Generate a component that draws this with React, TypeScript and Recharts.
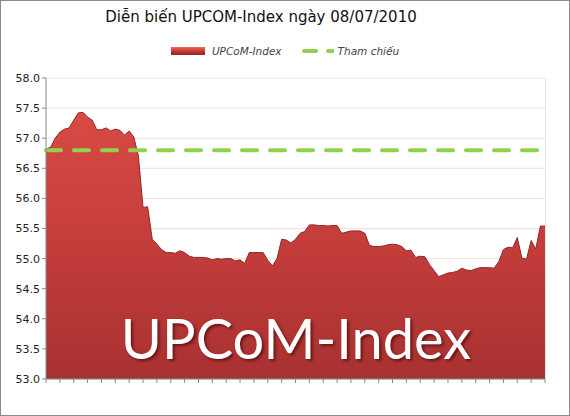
import React from "react";
import {
  ComposedChart,
  Area,
  Line,
  XAxis,
  YAxis,
  CartesianGrid,
} from "recharts";

const TITLE = "Diễn biến UPCOM-Index ngày 08/07/2010";
const SERIES_NAME = "UPCoM-Index";
const REF_NAME = "Tham chiếu";
const REF_VALUE = 56.8;

const indexValues = [
  56.82, 56.85, 57.0, 57.1, 57.15, 57.17, 57.3, 57.42, 57.43, 57.35,
  57.3, 57.14, 57.14, 57.17, 57.12, 57.15, 57.13, 57.05, 57.12, 57.02,
  56.7, 55.85, 55.86, 55.32, 55.24, 55.15, 55.1, 55.1, 55.09, 55.13,
  55.1, 55.04, 55.02, 55.02, 55.02, 55.01, 54.98, 55.0, 54.99, 55.0,
  55.0, 54.96, 54.98, 54.92, 55.1, 55.1, 55.1, 55.1, 54.97, 54.88,
  55.0, 55.32, 55.31, 55.26, 55.32, 55.42, 55.45, 55.56, 55.56, 55.55,
  55.55, 55.54, 55.55, 55.55, 55.42, 55.44, 55.46, 55.46, 55.46, 55.42,
  55.22, 55.2, 55.2, 55.21, 55.23, 55.24, 55.23, 55.2, 55.13, 55.14,
  55.02, 55.04, 55.03, 54.9, 54.8, 54.7, 54.73, 54.76, 54.77, 54.79,
  54.84, 54.81, 54.8, 54.83, 54.85, 54.85, 54.85, 54.84, 54.95, 55.15,
  55.19, 55.18, 55.35, 55.01, 54.99, 55.3, 55.16, 55.54, 55.54,
];

const yTicks = [53.0, 53.5, 54.0, 54.5, 55.0, 55.5, 56.0, 56.5, 57.0, 57.5, 58.0];
const xTickStep = 3;

const data = indexValues.map((v, i) => ({ t: i, index: v, ref: REF_VALUE }));
const xTicks = Array.from(
  { length: Math.floor((indexValues.length - 1) / xTickStep) + 1 },
  (_, k) => k * xTickStep
);

function LegendRow() {
  return (
    <div
      style={{
        position: "absolute",
        top: 45,
        left: 0,
        width: 570,
        display: "flex",
        justifyContent: "center",
        alignItems: "center",
        fontFamily: "DejaVu Sans",
        fontStyle: "italic",
        fontSize: 10.5,
        color: "#444",
      }}
    >
      <svg width={34} height={10}>
        <defs>
          <linearGradient id="lg" x1="0" y1="0" x2="0" y2="1">
            <stop offset="0" stopColor="#e86a64" />
            <stop offset="0.5" stopColor="#c83a36" />
            <stop offset="1" stopColor="#8c2424" />
          </linearGradient>
        </defs>
        <rect x={0} y={1} width={34} height={8} fill="url(#lg)" />
      </svg>
      <span style={{ marginLeft: 7, marginRight: 20 }}>{SERIES_NAME}</span>
      <svg width={32} height={10}>
        <line x1={2} y1={5} x2={14} y2={5} stroke="#92d050" strokeWidth={4} strokeLinecap="round" />
        <line x1={26} y1={5} x2={32} y2={5} stroke="#92d050" strokeWidth={4} strokeLinecap="round" />
      </svg>
      <span style={{ marginLeft: 4 }}>{REF_NAME}</span>
    </div>
  );
}

export default function App() {
  return (
    <div
      style={{
        position: "absolute",
        left: 0,
        top: 0,
        width: 570,
        height: 416,
        background: "#fff",
      }}
    >
      <ComposedChart
        width={570}
        height={416}
        data={data}
        margin={{ top: 78, right: 25, bottom: 17, left: 0 }}
      >
        <defs>
          <linearGradient id="areaFill" x1="0" y1="0" x2="0" y2="1">
            <stop offset="0" stopColor="#d84a45" />
            <stop offset="0.45" stopColor="#c63e3b" />
            <stop offset="1" stopColor="#a83131" />
          </linearGradient>
        </defs>
        <CartesianGrid
          horizontal
          vertical={false}
          stroke="#f3dfd3"
          strokeWidth={1}
        />
        <XAxis
          dataKey="t"
          type="number"
          domain={[0, indexValues.length - 1]}
          ticks={xTicks}
          tickFormatter={() => ""}
          tickLine={{ stroke: "#888" }}
          tickSize={4}
          axisLine={{ stroke: "#888" }}
          height={20}
        />
        <YAxis
          domain={[53, 58]}
          ticks={yTicks}
          tickFormatter={(v: number) => v.toFixed(1)}
          tick={{ fontSize: 11, fill: "#222", fontFamily: "DejaVu Sans" }}
          tickLine={{ stroke: "#888" }}
          tickSize={4}
          axisLine={{ stroke: "#888" }}
          width={46}
        />
        <Area
          dataKey="index"
          type="linear"
          baseValue={53}
          fill="url(#areaFill)"
          fillOpacity={1}
          stroke="#8f2727"
          strokeWidth={1}
          isAnimationActive={false}
          dot={false}
          activeDot={false}
        />
        <Line
          dataKey="ref"
          type="linear"
          stroke="#92d050"
          strokeWidth={4}
          strokeDasharray="15 13"
          strokeLinecap="round"
          dot={false}
          activeDot={false}
          isAnimationActive={false}
        />
      </ComposedChart>
      <div
        style={{
          position: "absolute",
          top: 8,
          left: 0,
          width: 522,
          textAlign: "center",
          fontFamily: "DejaVu Sans",
          fontSize: 15,
          color: "#111",
        }}
      >
        {TITLE}
      </div>
      <LegendRow />
      <div
        style={{
          position: "absolute",
          top: 304,
          left: 47,
          width: 498,
          textAlign: "center",
          fontFamily: "Lato",
          fontSize: 56,
          lineHeight: "68px",
          color: "#fff",
          textShadow: "2px 2px 3px rgba(60,0,0,0.6)",
          pointerEvents: "none",
        }}
      >
        {SERIES_NAME}
      </div>
      <div
        style={{
          position: "absolute",
          left: 0,
          top: 0,
          width: 568,
          height: 414,
          border: "1px solid #8a8a8a",
          pointerEvents: "none",
        }}
      />
      <div
        style={{
          position: "absolute",
          left: 545,
          top: 78,
          width: 1,
          height: 301,
          background: "#e4e4e4",
        }}
      />
    </div>
  );
}
